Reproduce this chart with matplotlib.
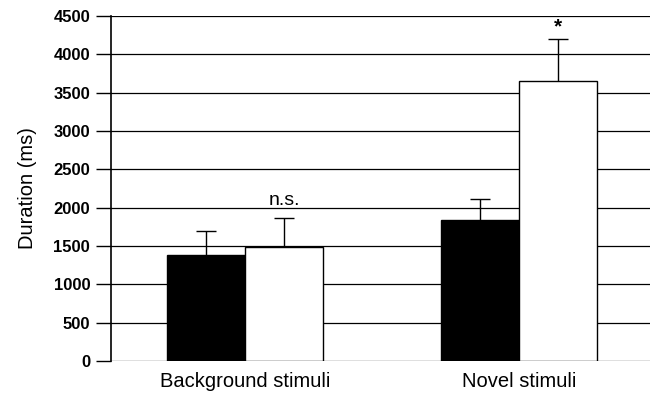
import numpy as np
import matplotlib.pyplot as plt

plt.rcParams['font.family'] = ['Liberation Sans', 'DejaVu Sans']

groups = ['Background stimuli', 'Novel stimuli']
black_vals = [1380, 1835]
white_vals = [1490, 3650]
black_err = [310, 275]
white_err = [380, 545]
marks = ['n.s.', '*']

x = np.arange(len(groups))
w = 0.285

fig = plt.figure(figsize=(6.52, 3.94), dpi=100)
ax = fig.add_axes([111 / 652, 33 / 394, 539 / 652, 345 / 394])

ax.set_axisbelow(True)
ax.yaxis.grid(True, color='black', lw=0.9)
ekw = dict(ecolor='black', elinewidth=1, capsize=7, capthick=1)
b1 = ax.bar(x - w / 2, black_vals, w, color='black', edgecolor='black', lw=1,
            yerr=[np.zeros(2), black_err], error_kw=ekw)
b2 = ax.bar(x + w / 2, white_vals, w, color='white', edgecolor='black', lw=1,
            yerr=[np.zeros(2), white_err], error_kw=ekw)
# only the upper cap should show
for b in (b1, b2):
    caps = b.errorbar.lines[1]
    caps[0].set_visible(False)

ax.text(x[0] + w / 2, white_vals[0] + white_err[0] + 110, marks[0], ha='center', va='bottom', fontsize=14)
ax.text(x[1] + w / 2, white_vals[1] + white_err[1] + 40, marks[1], ha='center', va='bottom',
        fontsize=15, fontweight='bold')

ax.set_ylim(0, 4500)
ax.set_xlim(-0.489, 1.478)
ax.set_yticks(np.arange(0, 4501, 500))
ax.tick_params(axis='y', length=11, width=1, labelsize=12, pad=4)
for lab in ax.get_yticklabels():
    lab.set_fontweight('bold')
ax.set_xticks(x)
ax.set_xticklabels(groups, fontsize=14.5)
ax.tick_params(axis='x', length=0, pad=8)
ax.set_ylabel('Duration (ms)', fontsize=14.5, labelpad=12)

for s in ['top', 'right', 'bottom']:
    ax.spines[s].set_visible(False)
ax.spines['left'].set_linewidth(1.2)

plt.savefig('out.png', dpi=100)
